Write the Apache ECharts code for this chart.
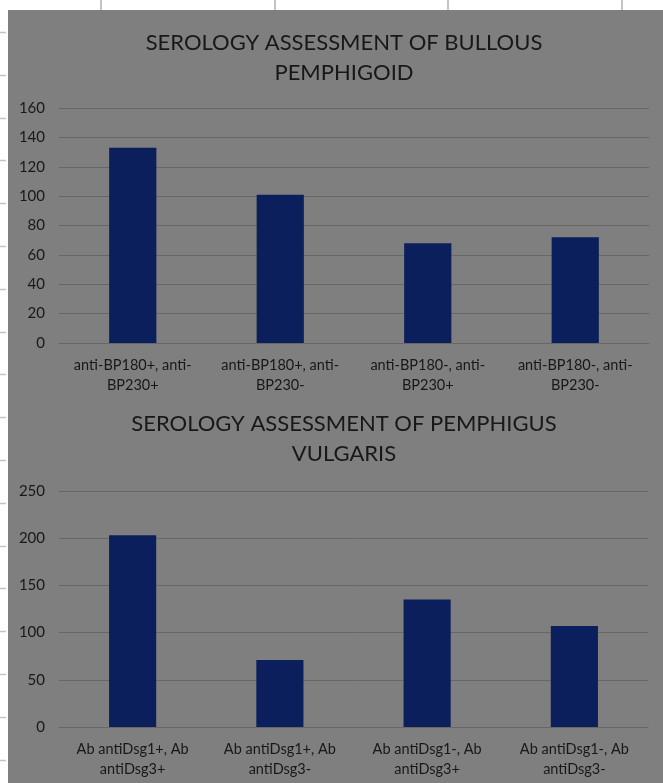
<!DOCTYPE html>
<html>
<head>
<meta charset="utf-8">
<script src="https://cdn.jsdelivr.net/npm/echarts@6/dist/echarts.min.js"></script>
<style>
html,body{margin:0;padding:0;background:#fff;}
#c{width:663px;height:783px;}
</style>
</head>
<body>
<div id="c"></div>
<script>
// ---- data ----
const bpTitle = 'SEROLOGY ASSESSMENT OF BULLOUS\nPEMPHIGOID';
const bpCategories = ['anti-BP180+, anti-\nBP230+', 'anti-BP180+, anti-\nBP230-', 'anti-BP180-, anti-\nBP230+', 'anti-BP180-, anti-\nBP230-'];
const bpValues = [133, 101, 68, 72];
const bpMax = 160, bpStep = 20;

const pvTitle = 'SEROLOGY ASSESSMENT OF PEMPHIGUS\nVULGARIS';
const pvCategories = ['Ab antiDsg1+, Ab\nantiDsg3+', 'Ab antiDsg1+, Ab\nantiDsg3-', 'Ab antiDsg1-, Ab\nantiDsg3+', 'Ab antiDsg1-, Ab\nantiDsg3-'];
const pvValues = [203, 71, 135, 107];
const pvMax = 250, pvStep = 50;

// ---- styling ----
const FONT = 'Lato, "Open Sans", sans-serif';
const BG = '#7f7f7f';
const BAR = '#0b1f5c';
const GRID = '#676767';
const TXT = '#181818';

const chart = echarts.init(document.getElementById('c'), null, {renderer: 'canvas'});

// decorative sheet ticks (spreadsheet frame)
const deco = [];
deco.push({type: 'rect', shape: {x: 8, y: 10, width: 655, height: 773}, style: {fill: BG}, z: -10});
[101, 275, 448, 622].forEach(x => deco.push({type: 'line', shape: {x1: x, y1: 0, x2: x, y2: 10}, style: {stroke: '#c4c4c4', lineWidth: 2}, z: -9}));
for (let k = 0; k < 18; k++) {
  const y = Math.round(32 + 42.8 * k) + 0.5;
  deco.push({type: 'line', shape: {x1: 0, y1: y, x2: 6, y2: y}, style: {stroke: '#c4c4c4', lineWidth: 1.5}, z: -9});
}

function yAxis(gi, max, step) {
  return {
    type: 'value', gridIndex: gi, min: 0, max: max, interval: step,
    axisLine: {show: false}, axisTick: {show: false},
    axisLabel: {color: TXT, fontFamily: FONT, fontSize: 15, margin: 14},
    splitLine: {lineStyle: {color: GRID, width: 1}}
  };
}
function xAxis(gi, cats) {
  return {
    type: 'category', gridIndex: gi, data: cats,
    axisLine: {show: true, lineStyle: {color: GRID}}, axisTick: {show: false},
    axisLabel: {color: TXT, fontFamily: FONT, fontSize: 14.5, lineHeight: 20, interval: 0, margin: 12}
  };
}

chart.setOption({
  backgroundColor: '#ffffff',
  animation: false,
  graphic: deco,
  title: [
    {text: bpTitle, left: 339, top: 23, textAlign: 'center',
     textStyle: {color: TXT, fontFamily: FONT, fontSize: 22, fontWeight: 'normal', lineHeight: 30}},
    {text: pvTitle, left: 339, top: 404, textAlign: 'center',
     textStyle: {color: TXT, fontFamily: FONT, fontSize: 22, fontWeight: 'normal', lineHeight: 30}}
  ],
  grid: [
    {left: 59, right: 14, top: 108, height: 235},
    {left: 59, right: 15, top: 491, height: 236}
  ],
  xAxis: [xAxis(0, bpCategories), xAxis(1, pvCategories)],
  yAxis: [yAxis(0, bpMax, bpStep), yAxis(1, pvMax, pvStep)],
  series: [
    {type: 'bar', xAxisIndex: 0, yAxisIndex: 0, data: bpValues, barWidth: '32%', itemStyle: {color: BAR}},
    {type: 'bar', xAxisIndex: 1, yAxisIndex: 1, data: pvValues, barWidth: '32%', itemStyle: {color: BAR}}
  ]
});
</script>
</body>
</html>
